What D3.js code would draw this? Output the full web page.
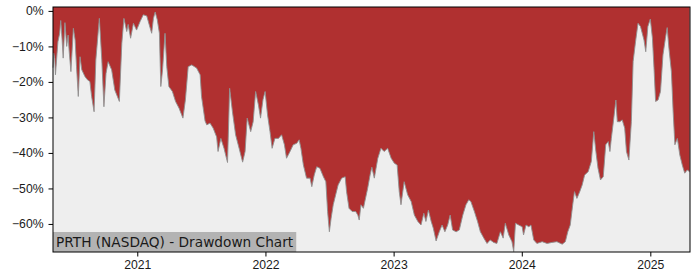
<!DOCTYPE html>
<html>
<head>
<meta charset="utf-8">
<script src="https://cdn.jsdelivr.net/npm/d3@7"></script>
<style>
  body { margin: 0; background: #ffffff; }
  svg { display: block; font-family: "DejaVu Sans", sans-serif; }
</style>
</head>
<body>
<svg id="chart" width="700" height="280"></svg>
<script>
const title = "PRTH (NASDAQ) - Drawdown Chart";

const dates = [
  "2020-05-06", "2020-05-08", "2020-05-11", "2020-05-13", "2020-05-20", "2020-05-25", "2020-05-28", "2020-06-01",
  "2020-06-04", "2020-06-09", "2020-06-14", "2020-06-18", "2020-06-21", "2020-06-26", "2020-07-03", "2020-07-08",
  "2020-07-12", "2020-07-17", "2020-07-22", "2020-07-27", "2020-08-05", "2020-08-12", "2020-08-19", "2020-08-24",
  "2020-08-31", "2020-09-05", "2020-09-15", "2020-09-22", "2020-09-28", "2020-10-04", "2020-10-10", "2020-10-20",
  "2020-10-29", "2020-11-11", "2020-11-18", "2020-11-24", "2020-12-02", "2020-12-06", "2020-12-13", "2020-12-21",
  "2020-12-30", "2021-01-09", "2021-01-18", "2021-01-28", "2021-02-04", "2021-02-11", "2021-02-16", "2021-02-21",
  "2021-02-27", "2021-03-05", "2021-03-09", "2021-03-14", "2021-03-21", "2021-03-26", "2021-04-01", "2021-04-11",
  "2021-04-20", "2021-04-30", "2021-05-11", "2021-05-18", "2021-05-26", "2021-06-05", "2021-06-19", "2021-06-29",
  "2021-07-03", "2021-07-13", "2021-07-18", "2021-07-27", "2021-08-05", "2021-08-15", "2021-08-19", "2021-08-27",
  "2021-09-05", "2021-09-15", "2021-09-21", "2021-09-29", "2021-10-08", "2021-10-18", "2021-10-28", "2021-11-04",
  "2021-11-10", "2021-11-20", "2021-11-27", "2021-12-04", "2021-12-12", "2021-12-18", "2021-12-25", "2021-12-31",
  "2022-01-07", "2022-01-14", "2022-01-20", "2022-01-28", "2022-02-07", "2022-02-16", "2022-02-24", "2022-03-02",
  "2022-03-12", "2022-03-21", "2022-03-31", "2022-04-07", "2022-04-12", "2022-04-19", "2022-04-28", "2022-05-08",
  "2022-05-13", "2022-05-20", "2022-05-27", "2022-06-05", "2022-06-15", "2022-06-22", "2022-06-27", "2022-07-02",
  "2022-07-07", "2022-07-13", "2022-07-20", "2022-07-27", "2022-08-06", "2022-08-16", "2022-08-20", "2022-08-27",
  "2022-09-05", "2022-09-15", "2022-09-21", "2022-09-25", "2022-09-30", "2022-10-07", "2022-10-11", "2022-10-19",
  "2022-10-26", "2022-10-31", "2022-11-07", "2022-11-17", "2022-11-26", "2022-12-05", "2022-12-15", "2022-12-25",
  "2023-01-03", "2023-01-11", "2023-01-17", "2023-01-22", "2023-01-31", "2023-02-10", "2023-02-20", "2023-03-01",
  "2023-03-11", "2023-03-20", "2023-03-28", "2023-04-03", "2023-04-10", "2023-04-18", "2023-04-24", "2023-05-02",
  "2023-05-11", "2023-05-19", "2023-05-27", "2023-06-04", "2023-06-11", "2023-06-18", "2023-06-28", "2023-07-07",
  "2023-07-17", "2023-07-26", "2023-08-03", "2023-08-09", "2023-08-19", "2023-08-28", "2023-09-05", "2023-09-15",
  "2023-09-24", "2023-10-03", "2023-10-13", "2023-10-22", "2023-11-01", "2023-11-09", "2023-11-15", "2023-11-25",
  "2023-12-04", "2023-12-09", "2023-12-14", "2023-12-23", "2024-01-02", "2024-01-06", "2024-01-13", "2024-01-21",
  "2024-01-27", "2024-02-04", "2024-02-13", "2024-02-28", "2024-03-13", "2024-03-27", "2024-04-10", "2024-04-25",
  "2024-05-04", "2024-05-11", "2024-05-18", "2024-05-25", "2024-05-30", "2024-06-06", "2024-06-14", "2024-06-21",
  "2024-06-28", "2024-07-08", "2024-07-17", "2024-07-24", "2024-07-30", "2024-08-05", "2024-08-12", "2024-08-20",
  "2024-08-27", "2024-09-03", "2024-09-08", "2024-09-12", "2024-09-19", "2024-09-25", "2024-09-29", "2024-10-06",
  "2024-10-13", "2024-10-20", "2024-10-25", "2024-11-01", "2024-11-08", "2024-11-13", "2024-11-20", "2024-11-27",
  "2024-12-04", "2024-12-09", "2024-12-14", "2024-12-19", "2024-12-25", "2025-01-01", "2025-01-07", "2025-01-12",
  "2025-01-16", "2025-01-23", "2025-01-30", "2025-02-06", "2025-02-13", "2025-02-18", "2025-02-23", "2025-03-02",
  "2025-03-07", "2025-03-12", "2025-03-19", "2025-03-26", "2025-04-02", "2025-04-09", "2025-04-16", "2025-04-23"
];

const drawdown = [
  -16.0, -11.9, -13.5, -18.0, -8.7, -6.3, -2.7, -8.2,
  -13.3, -3.3, -10.0, -6.8, -11.3, -17.1, -4.9, -8.2,
  -15.7, -24.1, -12.9, -16.6, -18.5, -19.4, -19.9, -24.1,
  -28.4, -13.8, -2.1, -13.8, -27.0, -17.6, -14.3, -16.6,
  -22.3, -25.5, -9.1, -2.1, -5.8, -3.8, -7.7, -3.5,
  -5.4, -3.0, -1.1, -1.4, -3.9, -6.3, -2.1, -0.3,
  -2.5, -6.3, -21.3, -16.6, -6.3, -15.7, -21.3, -22.7,
  -25.5, -27.4, -30.2, -25.1, -15.7, -15.2, -16.1, -18.0,
  -24.1, -31.0, -32.1, -31.6, -33.0, -35.5, -39.6, -35.9,
  -38.7, -42.7, -21.8, -28.4, -34.9, -38.7, -42.6, -39.6,
  -30.2, -34.0, -31.2, -22.7, -26.5, -30.2, -25.0, -22.7,
  -29.3, -34.0, -38.7, -35.9, -35.9, -34.9, -37.7, -41.5,
  -39.6, -37.7, -37.3, -36.3, -38.7, -43.4, -47.1, -47.1,
  -49.5, -46.2, -43.9, -44.3, -46.7, -48.1, -56.5, -62.2,
  -58.4, -54.6, -51.8, -49.0, -47.1, -46.7, -50.9, -55.6,
  -56.5, -56.5, -57.5, -58.9, -54.6, -55.6, -53.7, -50.0,
  -46.2, -44.0, -47.1, -41.5, -38.7, -39.6, -38.7, -41.5,
  -42.9, -43.4, -50.9, -54.6, -48.1, -51.8, -53.7, -57.5,
  -59.3, -60.3, -57.0, -59.3, -56.1, -59.3, -61.2, -64.8,
  -62.2, -60.3, -62.2, -60.3, -57.5, -61.7, -62.2, -61.7,
  -57.5, -54.6, -53.2, -53.7, -56.5, -59.3, -62.2, -64.0,
  -65.5, -64.5, -65.2, -65.5, -62.2, -64.0, -59.8, -63.1,
  -65.0, -67.8, -59.8, -60.3, -60.8, -63.1, -60.3, -60.8,
  -60.3, -64.5, -65.5, -65.0, -65.5, -65.2, -65.0, -65.7,
  -65.0, -62.2, -60.3, -54.6, -50.9, -52.8, -50.9, -49.0,
  -46.2, -45.3, -42.4, -34.0, -39.6, -44.3, -47.6, -46.7,
  -37.7, -36.8, -39.6, -35.9, -30.2, -25.1, -31.2, -31.2,
  -30.7, -33.0, -39.6, -42.0, -31.2, -14.3, -8.6, -3.5,
  -4.4, -6.3, -8.2, -11.5, -4.4, -2.3, -7.7, -17.1,
  -25.5, -25.1, -22.7, -12.4, -7.7, -4.7, -10.5, -17.1,
  -28.4, -37.7, -35.9, -40.6, -43.4, -45.7, -44.8, -45.3
];

const yTicks = [0, -10, -20, -30, -40, -50, -60];
const xTickYears = [2021, 2022, 2023, 2024, 2025];

const svg = d3.select("#chart");
const margin = { top: 7, right: 10, bottom: 28, left: 53 };
const width = +svg.attr("width") - margin.left - margin.right;
const height = +svg.attr("height") - margin.top - margin.bottom;

const parse = d3.timeParse("%Y-%m-%d");
const data = dates.map((d, i) => ({ date: parse(d), value: drawdown[i] }));

const x = d3.scaleTime()
    .domain([parse("2020-05-06"), parse("2025-04-24")])
    .range([0, width]);

const y = d3.scaleLinear()
    .domain([-67.9, 1.1])
    .range([height, 0]);

const g = svg.append("g")
    .attr("transform", `translate(${margin.left},${margin.top})`);

// background below the drawdown
g.append("rect")
    .attr("width", width)
    .attr("height", height)
    .attr("fill", "#eeeeee");

// red area from the top down to the drawdown
const area = d3.area()
    .x(d => x(d.date))
    .y0(0)
    .y1(d => y(d.value));

g.append("path")
    .datum(data)
    .attr("fill", "#b03030")
    .attr("d", area);

const line = d3.line()
    .x(d => x(d.date))
    .y(d => y(d.value));

g.append("path")
    .datum(data)
    .attr("fill", "none")
    .attr("stroke", "#909090")
    .attr("stroke-width", 0.9)
    .attr("d", line);

// title label box
const label = g.append("g")
    .attr("transform", `translate(0,${height})`);
const labelBg = label.append("rect")
    .attr("fill", "#b3b3b3");
const labelText = label.append("text")
    .attr("x", 3)
    .attr("y", -5)
    .attr("fill", "#1a1a1a")
    .style("font-size", "13.7px")
    .text(title);
const tw = labelText.node().getComputedTextLength();
labelBg.attr("x", 0).attr("y", -20).attr("width", tw + 6).attr("height", 20);

// axes
const yAxis = d3.axisLeft(y)
    .tickValues(yTicks)
    .tickSize(4.5)
    .tickPadding(5)
    .tickFormat(d => (d < 0 ? "\u2212" + Math.abs(d) : d) + "%");

const xAxis = d3.axisBottom(x)
    .tickValues(xTickYears.map(yr => new Date(yr, 0, 1)))
    .tickSize(4.5)
    .tickPadding(4)
    .tickFormat(d3.timeFormat("%Y"));

const ya = g.append("g").call(yAxis);
const xa = g.append("g").attr("transform", `translate(0,${height})`).call(xAxis);

[ya, xa].forEach(a => {
    a.select(".domain").remove();
    a.selectAll("text").style("font-size", "12.2px").attr("fill", "#1a1a1a");
    a.selectAll("line").attr("stroke", "#000");
});

g.append("rect")
    .attr("width", width)
    .attr("height", height)
    .attr("fill", "none")
    .attr("stroke", "#000")
    .attr("stroke-width", 1);
</script>
</body>
</html>
